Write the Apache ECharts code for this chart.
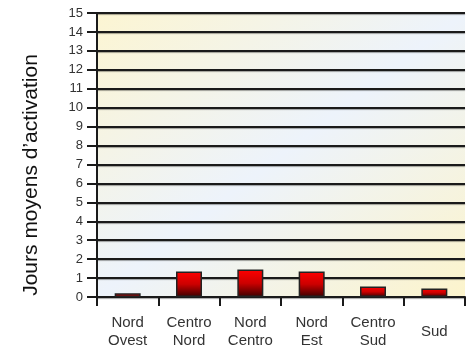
<!DOCTYPE html>
<html>
<head>
<meta charset="utf-8">
<script src="https://cdn.jsdelivr.net/npm/echarts@6/dist/echarts.min.js"></script>
<style>
  html, body { margin: 0; padding: 0; background: #ffffff; }
  #chart { width: 467px; height: 351px; }
</style>
</head>
<body>
<div id="chart"></div>
<script>
// Regions (two-line labels) and mean activation days per region
const regions = ['Nord\nOvest', 'Centro\nNord', 'Nord\nCentro', 'Nord\nEst', 'Centro\nSud', 'Sud'];
const meanDays = [0.2, 1.35, 1.45, 1.35, 0.55, 0.45];
const yTicks = [0, 1, 2, 3, 4, 5, 6, 7, 8, 9, 10, 11, 12, 13, 14, 15];
const yTitle = 'Jours moyens d\u2019activation';

const FONT = '"Liberation Sans", Arial, sans-serif';
const W = 467, H = 351;
const G = { left: 97, right: 2, top: 13, bottom: 54 };

// Diagonal wash: yellow in the top-left and bottom-right corners, pale blue along the other diagonal
const pw = W - G.left - G.right, ph = H - G.top - G.bottom;
const cx = G.left + pw / 2, cy = G.top + ph / 2;
const k = (pw * ph) / (pw * pw + ph * ph);
const bg = new echarts.graphic.LinearGradient(
  cx - ph * k, cy - pw * k, cx + ph * k, cy + pw * k,
  [
    { offset: 0, color: '#fcf5d2' },
    { offset: 0.5, color: '#edf3fb' },
    { offset: 1, color: '#fcf4cc' }
  ], true);

const chart = echarts.init(document.getElementById('chart'), null, { renderer: 'canvas' });

chart.setOption({
  animation: false,
  grid: {
    left: G.left, right: G.right, top: G.top, bottom: G.bottom,
    show: true,
    borderWidth: 0,
    backgroundColor: bg
  },
  graphic: [{
    type: 'text',
    x: 31, y: 175,
    rotation: Math.PI / 2,
    style: {
      text: yTitle,
      fill: '#111',
      font: '21px ' + FONT,
      align: 'center',
      verticalAlign: 'middle'
    }
  }],
  xAxis: {
    type: 'category',
    data: regions,
    axisLine: { show: true, lineStyle: { color: '#1a1a1a', width: 2 } },
    axisTick: { show: true, alignWithLabel: false, length: 9, lineStyle: { color: '#1a1a1a', width: 2 } },
    axisLabel: {
      interval: 0,
      color: '#333',
      fontFamily: FONT,
      fontSize: 15,
      lineHeight: 18,
      margin: 17,
      formatter: function (v) {
        return v.indexOf('\n') < 0 ? '{one|' + v + '}' : v;
      },
      rich: { one: { fontFamily: FONT, fontSize: 15, lineHeight: 36, color: '#333' } }
    }
  },
  yAxis: {
    type: 'value',
    min: yTicks[0],
    max: yTicks[yTicks.length - 1],
    interval: 1,
    axisLine: { show: true, lineStyle: { color: '#1a1a1a', width: 2 } },
    axisTick: { show: true, length: 10, lineStyle: { color: '#1a1a1a', width: 2 } },
    axisLabel: { color: '#333', fontFamily: FONT, fontSize: 13, margin: 14 },
    splitLine: {
      show: true,
      lineStyle: {
        color: '#1a1a1a', width: 2,
        shadowColor: 'rgba(0,0,0,0.35)', shadowBlur: 1, shadowOffsetY: 1
      }
    }
  },
  series: [{
    type: 'bar',
    data: meanDays,
    barWidth: 26,
    itemStyle: {
      color: new echarts.graphic.LinearGradient(0, 0, 0, 1, [
        { offset: 0, color: '#ff0000' },
        { offset: 0.5, color: '#cc0000' },
        { offset: 1, color: '#3a0000' }
      ]),
      borderColor: '#222',
      borderWidth: 1.5
    }
  }]
});
</script>
</body>
</html>
